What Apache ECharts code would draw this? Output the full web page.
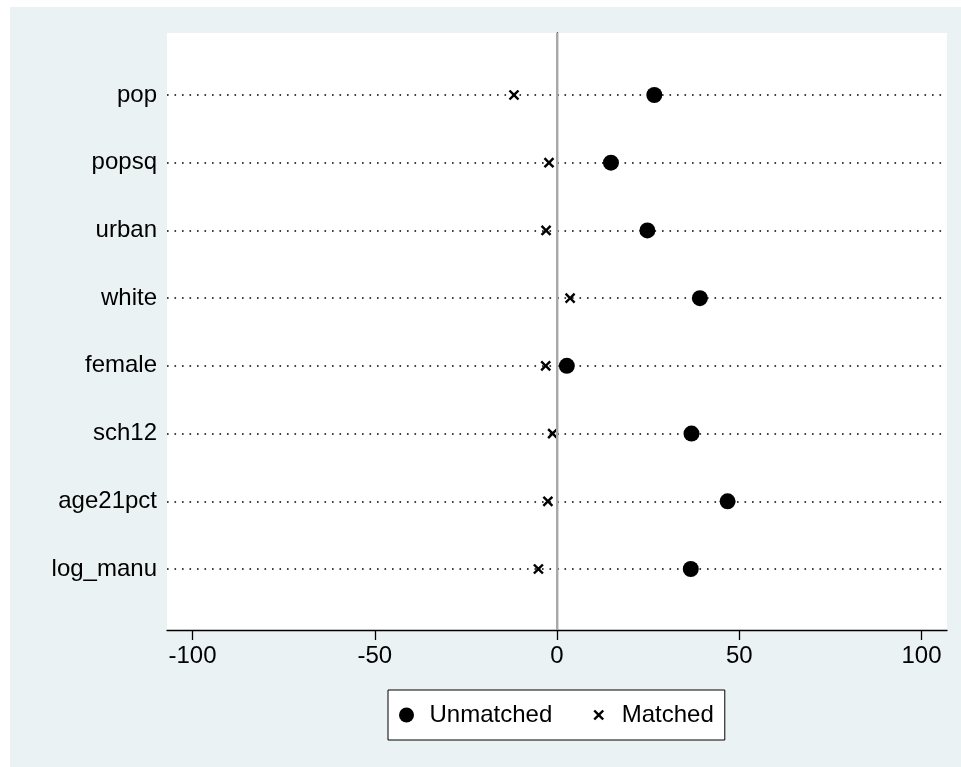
<!DOCTYPE html>
<html>
<head>
<meta charset="utf-8">
<script src="https://cdn.jsdelivr.net/npm/echarts@6/dist/echarts.min.js"></script>
<style>
  html, body { margin: 0; padding: 0; background: #ffffff; }
  #chart { position: absolute; left: 10px; top: 7px; width: 951px; height: 760px; }
</style>
</head>
<body>
<div id="chart"></div>
<script>
var categories = ['pop', 'popsq', 'urban', 'white', 'female', 'sch12', 'age21pct', 'log_manu'];
var unmatched = [26.7, 14.8, 24.8, 39.2, 2.7, 36.9, 46.8, 36.7];
var matched = [-11.8, -2.2, -3.0, 3.6, -3.1, -1.2, -2.5, -5.1];
var xTicks = [-100, -50, 0, 50, 100];

var FONT = 'Liberation Sans, Arial, sans-serif';
var FSIZE = 24;
// X mark, with zero-area points widening the box so it draws smaller than the circle
var crossPath = 'path://M-2,-2L-2,-2L-2,-2Z M12,12L12,12L12,12Z ' +
    'M0,1.6L1.6,0L5,3.4L8.4,0L10,1.6L6.6,5L10,8.4L8.4,10L5,6.6L1.6,10L0,8.4L3.4,5Z';

function pairs(vals) {
    return vals.map(function (v, i) { return [v, categories[i]]; });
}

var chart = echarts.init(document.getElementById('chart'));

var option = {
    backgroundColor: '#EAF2F3',
    animation: false,
    textStyle: { fontFamily: FONT },
    legend: {
        left: 378,
        top: 683,
        orient: 'horizontal',
        padding: [13, 11, 13, 11],
        itemGap: 39,
        itemWidth: 36,
        itemHeight: 15,
        backgroundColor: '#ffffff',
        borderColor: '#000000',
        borderWidth: 1,
        borderRadius: 0,
        textStyle: { fontFamily: FONT, fontSize: FSIZE, color: '#000000' },
        data: [
            { name: 'Unmatched', icon: 'circle' },
            { name: 'Matched', icon: crossPath }
        ]
    },
    grid: [
        { left: 157, right: 14, top: 88, bottom: 198, containLabel: false },
        { left: 157, right: 14, top: 26, bottom: 137, show: true, backgroundColor: '#ffffff', borderWidth: 0 }
    ],
    xAxis: [
        {
            gridIndex: 0, type: 'value', min: -107, max: 107, show: false
        },
        {
            gridIndex: 1, type: 'value', min: -107, max: 107,
            axisLine: { show: true, onZero: false, lineStyle: { color: '#000000', width: 1.3 } },
            axisTick: { show: true, length: 10, customValues: xTicks, lineStyle: { color: '#000000', width: 1.3 } },
            axisLabel: { customValues: xTicks, margin: 14, fontFamily: FONT, fontSize: FSIZE, color: '#000000' },
            splitLine: { show: false }
        }
    ],
    yAxis: [
        {
            gridIndex: 0, type: 'category', data: categories, inverse: true, boundaryGap: false,
            axisLine: { show: false },
            axisTick: { show: false },
            axisLabel: { interval: 0, margin: 10, fontFamily: FONT, fontSize: FSIZE, color: '#000000' },
            splitLine: { show: true, interval: 0, lineStyle: { color: '#000000', width: 1.6, type: [1.6, 5.9] } }
        },
        {
            gridIndex: 1, type: 'value', min: 0, max: 1,
            axisLine: { show: true, lineStyle: { color: '#000000', width: 1.3 } },
            axisTick: { show: false },
            axisLabel: { show: false },
            splitLine: { show: false }
        }
    ],
    series: [
        {
            name: 'zero',
            type: 'line',
            xAxisIndex: 1,
            yAxisIndex: 1,
            data: [],
            z: 1,
            silent: true,
            markLine: {
                silent: true,
                symbol: 'none',
                label: { show: false },
                lineStyle: { color: '#a8a8a8', width: 2, type: 'solid' },
                data: [{ xAxis: 0 }]
            }
        },
        {
            name: 'Unmatched',
            type: 'scatter',
            xAxisIndex: 0,
            yAxisIndex: 0,
            symbol: 'circle',
            symbolSize: 16,
            itemStyle: { color: '#000000', opacity: 1 },
            z: 3,
            data: pairs(unmatched)
        },
        {
            name: 'Matched',
            type: 'scatter',
            xAxisIndex: 0,
            yAxisIndex: 0,
            symbol: crossPath,
            symbolSize: 15,
            itemStyle: { color: '#000000', opacity: 1 },
            z: 3,
            data: pairs(matched)
        }
    ]
};

chart.setOption(option);
window.addEventListener('resize', function () {
    chart.resize();
});
</script>
</body>
</html>
